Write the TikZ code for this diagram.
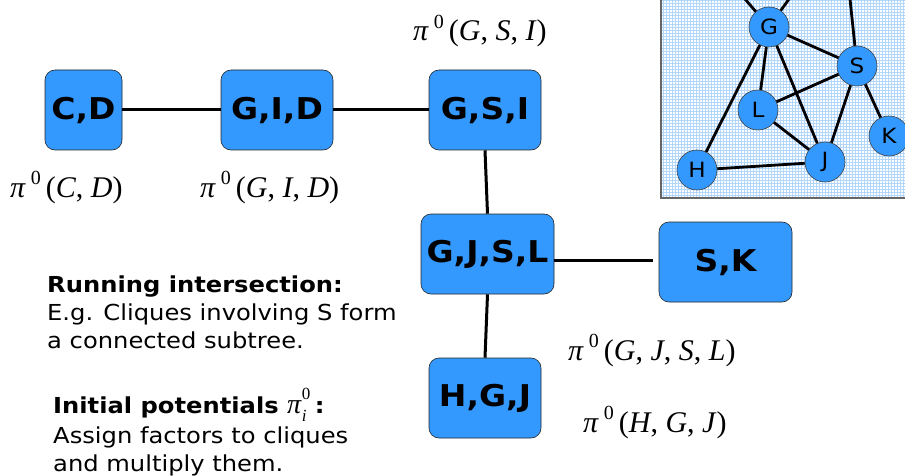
\documentclass[tikz,border=0pt]{standalone}
\usepackage{fontspec}
\setmainfont[FakeStretch=1.1]{DejaVu Sans}
\newfontfamily\tms{Liberation Serif}
\definecolor{boxblue}{HTML}{3399FF}
\definecolor{gridblue}{RGB}{178,214,252}
\newcommand{\pz}[1]{{\tms\fontsize{30}{32}\selectfont\textit{π}\,\raisebox{0.42em}{\fontsize{20}{20}\selectfont 0}\,(#1)}}
\newcommand{\vv}[1]{\textit{#1}}
\tikzset{
  clique/.style={draw=black!85, line width=0.6pt, fill=boxblue, rounded corners=10pt,
    minimum height=80pt, inner sep=0pt, font=\fontsize{30}{30}\selectfont\bfseries},
  conn/.style={line width=3pt, black},
  gnode/.style={circle, draw=black!75, line width=0.6pt, fill=boxblue, minimum size=40pt,
    inner sep=0pt, font=\fontsize{21}{21}\selectfont},
  gedge/.style={line width=2.8pt, black},
  lbl/.style={anchor=base west, inner sep=0pt},
  body/.style={anchor=base west, inner sep=0pt, font=\fontsize{22}{28}\selectfont}
}
\begin{document}
\begin{tikzpicture}[x=1pt,y=-1pt]
\useasboundingbox (0,0) rectangle (905,476);
% inset graph
\begin{scope}
  \clip (661,0) rectangle (905,198);
  \fill[white] (661,0) rectangle (905,198);
  \draw[gridblue, line width=0.9pt, step=3pt] (661,0) grid (905,198);
\end{scope}
\draw[black!60, line width=1.2pt] (661,0) -- (661,198) -- (905,198);
\node[gnode] (G) at (769,27) {G};
\node[gnode] (S) at (857,66) {S};
\node[gnode] (L) at (758,110) {L};
\node[gnode] (K) at (889,136) {K};
\node[gnode] (J) at (825,162) {J};
\node[gnode] (H) at (697,170) {H};
\coordinate (go1) at (745,-1);
\coordinate (go2) at (789,-1);
\coordinate (so) at (850,-1);
\begin{scope}
\clip (661,0) rectangle (905,198);
\draw[gedge] (G) -- (go1) (G) -- (go2) (S) -- (so);
\end{scope}
\draw[gedge] (G) -- (S) (G) -- (L) (G) -- (J) (G) -- (H) (S) -- (L) (S) -- (J) (S) -- (K) (L) -- (J) (H) -- (J);
% clique tree
\node[clique, minimum width=77pt] (cd) at (83.5,110) {C,D};
\node[clique, minimum width=112pt] (gid) at (277,110) {G,I,D};
\node[clique, minimum width=112pt] (gsi) at (485,110) {G,S,I};
\node[clique, minimum width=133pt] (gjsl) at (487.5,254) {G,J,S,L};
\node[clique, minimum width=133pt] (sk) at (725.5,262) {S,K};
\node[clique, minimum width=112pt] (hgj) at (485,398) {H,G,J};
\draw[conn] (cd) -- (gid);
\draw[conn] (gid) -- (gsi);
\draw[conn] (gsi.south) -- (gjsl.north);
\draw[conn] (gjsl.south) -- (hgj.north);
\draw[conn, shorten >=6pt] ([yshift=-6pt]gjsl.east) -- ([yshift=2pt]sk.west);
% potentials
\node[lbl] (pgsi) at (413,41) {\pz{\vv{G}, \vv{S}, \vv{I}}};
\node[lbl] (pcd) at (10,197) {\pz{\vv{C}, \vv{D}}};
\node[lbl] (pgid) at (200,197) {\pz{\vv{G}, \vv{I}, \vv{D}}};
\node[lbl] (pgjsl) at (568,360) {\pz{\vv{G}, \vv{J}, \vv{S}, \vv{L}}};
\node[lbl] (phgj) at (583,432) {\pz{\vv{H}, \vv{G}, \vv{J}}};
% text
\node[body] (t1) at (47,292) {\bfseries Running intersection:};
\node[body] (t2) at (47,320) {E.g. Cliques involving S form};
\node[body] (t3) at (47,348) {a connected subtree.};
\node[body] (t4) at (53,413) {\bfseries Initial potentials {\mdseries\tms\fontsize{28}{28}\selectfont\textit{π}\makebox[0pt][l]{\raisebox{0.5em}{\fontsize{17}{17}\selectfont 0}}\raisebox{-0.3em}{\fontsize{17}{17}\selectfont\textit{i}}\hspace{0.3em}}:};
\node[body] (t5) at (53,443) {Assign factors to cliques};
\node[body] (t6) at (53,471) {and multiply them.};
\end{tikzpicture}
\end{document}
